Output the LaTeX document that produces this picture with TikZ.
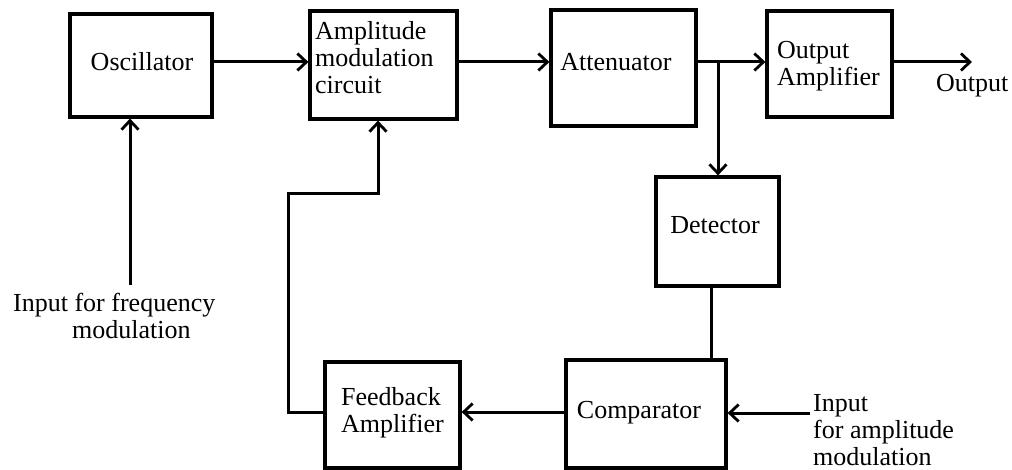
\documentclass[tikz,border=0pt]{standalone}
\usepackage{fontspec}
\setmainfont{Liberation Serif}
\usetikzlibrary{arrows.meta}
\begin{document}
\begin{tikzpicture}[x=1pt,y=-1pt,
  blk/.style={draw,line width=3.2pt,rectangle,inner sep=0pt},
  txt/.style={font=\fontsize{26}{27}\selectfont,inner sep=0pt,align=left},
  wire/.style={line width=3pt},
  arr/.style={wire,-{Straight Barb[length=9pt,width=17pt,line width=2.8pt]}}]
\useasboundingbox (0,0) rectangle (1012,470);
% blocks
\node[blk,minimum width=142pt,minimum height=103pt] (osc) at (141,65.5) {};
\node[blk,minimum width=147pt,minimum height=108pt] (amc) at (383.5,65) {};
\node[blk,minimum width=145pt,minimum height=116pt] (att) at (623.5,68) {};
\node[blk,minimum width=125pt,minimum height=106pt] (oamp) at (829.5,64) {};
\node[blk,minimum width=123pt,minimum height=109pt] (det) at (717.5,231.5) {};
\node[blk,minimum width=160pt,minimum height=108pt] (comp) at (646,414) {};
\node[blk,minimum width=135pt,minimum height=106pt] (fb) at (392.5,415) {};
% texts
\node[txt] (tosc) at (142,62) {Oscillator};
\node[txt,anchor=west] (tamc) at (315,58) {Amplitude\\modulation\\circuit};
\node[txt] (tatt) at (616,62) {Attenuator};
\node[txt,anchor=west] (toamp) at (777,66) {Output\\Amplifier};
\node[txt] (tdet) at (715,225) {Detector};
\node[txt] (tcomp) at (639,413) {Comparator};
\node[txt,anchor=west] (tfb) at (341,413) {Feedback\\Amplifier};
\node[txt,anchor=west] (tout) at (936,86) {Output};
\node[txt,anchor=west] (tfin) at (13,316) {Input for frequency\\\hspace*{59pt}modulation};
\node[txt,anchor=west,align=left] (tain) at (813,430) {Input\\for amplitude\\modulation};
% coordinates
\coordinate (r1) at (0,62);
\coordinate (jn) at (718,62);
\coordinate (outend) at (972,62);
\coordinate (fin) at (130,285);
\coordinate (fbl) at (288,412);
\coordinate (fbt) at (288,194);
\coordinate (fbu) at (378,194);
\coordinate (ain) at (810,413);
\coordinate (dc) at (711,0);
% connectors
\draw[arr] (osc.east |- r1) -- (amc.west |- r1);
\draw[arr] (amc.east |- r1) -- (att.west |- r1);
\draw[arr] (att.east |- r1) -- (oamp.west |- r1);
\draw[arr] (jn) -- (det.north -| jn);
\draw[arr] (oamp.east |- r1) -- (outend);
\draw[arr] (fin) -- (osc.south -| fin);
\draw[arr] (fb.west |- fbl) -- (fbl) -- (fbt) -- (fbu) -- (amc.south -| fbu);
\draw[wire] (det.south -| dc) -- (comp.north -| dc);
\draw[arr] (ain) -- (comp.east |- ain);
\draw[arr] (comp.west |- fbl) -- (fb.east |- fbl);
\end{tikzpicture}
\end{document}
